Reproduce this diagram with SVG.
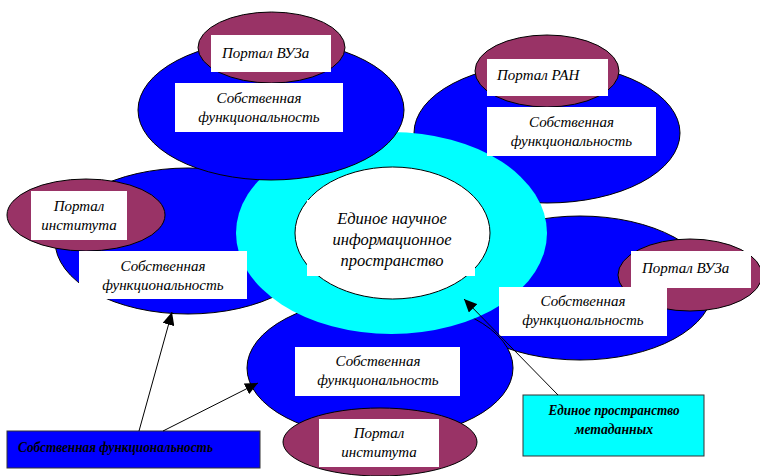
<svg xmlns="http://www.w3.org/2000/svg" width="760" height="476" viewBox="0 0 760 476">
<defs>
<style>
.blue{fill:#0000FF;stroke:#000;stroke-width:1}
.port{fill:#993366;stroke:#000;stroke-width:1}
.box{fill:#fff}
.t{font-family:"Liberation Serif","Times New Roman",serif;font-style:italic;font-size:15px;fill:#000;text-anchor:middle}
.ts{text-anchor:start}
.big{font-size:16.5px}
.lbl{font-weight:bold;font-size:15px}
.conn{stroke:#000;stroke-width:1;fill:none;marker-end:url(#arr)}
</style>
<marker id="arr" markerUnits="userSpaceOnUse" markerWidth="14" markerHeight="12" refX="13" refY="6" orient="auto">
<path d="M0,0 L13,6 L0,12 Z" fill="#000"/>
</marker>
</defs>
<rect width="760" height="476" fill="#fff"/>

<g id="node-institute-left">
<ellipse class="blue" cx="188" cy="241" rx="133" ry="73"/>
<ellipse class="port" cx="86" cy="215" rx="79" ry="36"/>
</g>
<g id="node-ran">
<ellipse class="blue" cx="547" cy="133" rx="133" ry="70"/>
<ellipse class="port" cx="547" cy="71" rx="72" ry="36"/>
</g>
<g id="node-vuz-right">
<ellipse class="blue" cx="580" cy="288" rx="133" ry="72"/>
<ellipse class="port" cx="690" cy="275" rx="72" ry="36"/>
</g>
<g id="node-institute-bottom">
<ellipse class="blue" cx="380" cy="368" rx="133" ry="70"/>
<ellipse class="port" cx="380" cy="442" rx="97" ry="34"/>
</g>

<g id="node-center">
<ellipse cx="391.5" cy="233" rx="155.5" ry="101" fill="#00FFFF"/>
</g>

<g id="node-vuz-top">
<ellipse class="blue" cx="271" cy="110" rx="133" ry="70"/>
<ellipse class="port" cx="271.5" cy="47.5" rx="73.5" ry="35.5"/>
<rect class="box" x="211" y="35" width="120" height="37"/>
<text class="t ts" x="222" y="58">Портал ВУЗа</text>
<rect class="box" x="175" y="83" width="168" height="49"/>
<text class="t" x="259" y="103">Собственная</text>
<text class="t" x="259" y="122">функциональность</text>
</g>

<g id="node-center-label">
<ellipse cx="392.5" cy="233" rx="97.5" ry="66" fill="#fff" stroke="#000" stroke-width="1"/>
<rect class="box" x="307" y="200" width="168" height="76"/>
<text class="t big" x="392" y="224">Единое научное</text>
<text class="t big" x="392" y="245">информационное</text>
<text class="t big" x="392" y="266">пространство</text>
</g>

<g id="node-institute-left-labels">
<rect class="box" x="31" y="191" width="96" height="49"/>
<text class="t" x="79" y="211">Портал</text>
<text class="t" x="79" y="230">института</text>
<rect class="box" x="79" y="251" width="168" height="48"/>
<text class="t" x="163" y="271">Собственная</text>
<text class="t" x="163" y="290">функциональность</text>
</g>
<g id="node-ran-labels">
<rect class="box" x="487" y="59" width="121" height="37"/>
<text class="t ts" x="497" y="80">Портал РАН</text>
<rect class="box" x="487" y="107" width="169" height="49"/>
<text class="t" x="571.5" y="127">Собственная</text>
<text class="t" x="571.5" y="146">функциональность</text>
</g>
<g id="node-vuz-right-labels">
<rect class="box" x="631" y="251" width="120" height="37"/>
<text class="t ts" x="642" y="273">Портал ВУЗа</text>
<rect class="box" x="499" y="287" width="168" height="49"/>
<text class="t" x="583" y="306">Собственная</text>
<text class="t" x="583" y="325">функциональность</text>
</g>
<g id="node-institute-bottom-labels">
<rect class="box" x="295" y="347" width="165" height="49"/>
<text class="t" x="378" y="366">Собственная</text>
<text class="t" x="378" y="385">функциональность</text>
<rect class="box" x="319" y="419" width="120" height="48"/>
<text class="t" x="379" y="438">Портал</text>
<text class="t" x="379" y="457">института</text>
</g>

<g id="legend-own">
<rect x="7" y="431" width="253" height="37" fill="#0000FF" stroke="#333" stroke-width="1"/>
<text class="t ts lbl" x="18" y="452" textLength="195" lengthAdjust="spacingAndGlyphs">Собственная функциональность</text>
</g>
<g id="legend-meta">
<rect x="523" y="395" width="181" height="61" fill="#00FFFF" stroke="#333" stroke-width="1"/>
<text class="t lbl" x="614" y="415" textLength="131" lengthAdjust="spacingAndGlyphs">Единое пространство</text>
<text class="t lbl" x="614" y="434" textLength="78" lengthAdjust="spacingAndGlyphs">метаданных</text>
</g>

<g id="connectors">
<line class="conn" x1="139" y1="431" x2="172" y2="312"/>
<line class="conn" x1="163" y1="431" x2="258" y2="383"/>
<line class="conn" x1="558" y1="395" x2="464" y2="299"/>
</g>
</svg>
